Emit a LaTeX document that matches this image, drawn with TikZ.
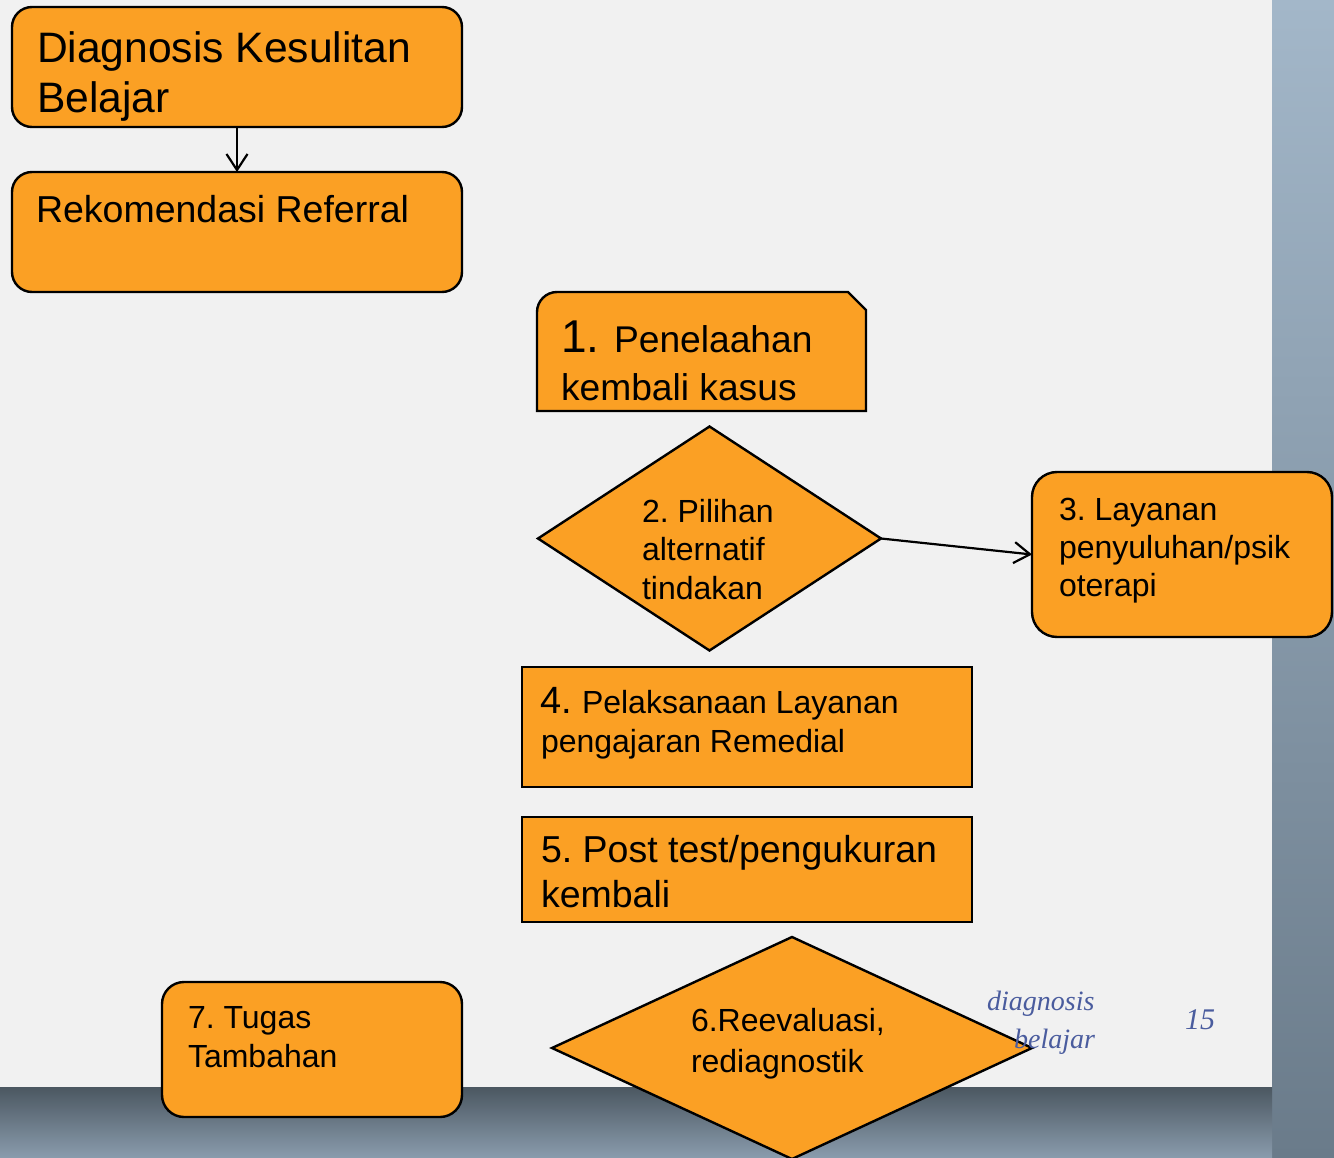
\documentclass[tikz,border=0pt]{standalone}
\usepackage{fontspec}
\setmainfont{Liberation Sans}
\newfontfamily\footfont{Liberation Serif}
\usetikzlibrary{shapes.geometric,arrows.meta}
\definecolor{boxfill}{HTML}{FBA024}
\definecolor{paper}{HTML}{F1F1F1}
\definecolor{footblue}{HTML}{4A5C9E}
\definecolor{rtop}{HTML}{A3B7C9}
\definecolor{rmid}{HTML}{93A7B9}
\definecolor{rbot}{HTML}{6A7B8A}
\definecolor{btop}{HTML}{4B5761}
\definecolor{bbot}{HTML}{8A9CAD}
\newcommand\myfs[1]{\fontsize{#1}{#1}\selectfont}
\frenchspacing
\begin{document}
\begin{tikzpicture}[x=1pt,y=-1pt,
  box/.style={draw=black,line width=2.4pt,fill=boxfill,inner sep=0pt,outer sep=0pt},
  rbox/.style={box,rectangle,rounded corners=#1},
  dia/.style={box,diamond},
  lbl/.style={anchor=base west,inner sep=0pt,outer sep=0pt,text=black},
  foot/.style={anchor=base west,inner sep=0pt,text=footblue},
  conn/.style={line width=2.2pt,-{Straight Barb[length=16pt,width=21pt,line width=2.2pt]}}]
\useasboundingbox (0,0) rectangle (1334,1158);
% background
\shade[top color=rtop, middle color=rmid, bottom color=rbot] (1272,0) rectangle (1334,1158);
\shade[top color=btop, bottom color=bbot] (0,1087) rectangle (1272,1158);
\fill[paper] (0,0) rectangle (1272,1087);
% boxes
\node[rbox=20pt, minimum width=450pt, minimum height=120pt] (diag) at (237,67) {};
\node[rbox=20pt, minimum width=450pt, minimum height=120pt] (reko) at (237,232) {};
\draw[box] (537,411) -- (537,312) .. controls (537,301) and (546,292) .. (557,292)
  -- (848,292) -- (866,310) -- (866,411) -- cycle;
\coordinate (s1) at (701,352);
\node[dia, minimum width=343pt, minimum height=224pt] (s2) at (709.5,538.5) {};
\node[rbox=25pt, minimum width=300pt, minimum height=165pt] (s3) at (1182,554.5) {};
\node[box, rectangle, minimum width=450pt, minimum height=120pt] (s4) at (747,727) {};
\node[box, rectangle, minimum width=450pt, minimum height=105pt] (s5) at (747,869.5) {};
\node[dia, minimum width=480pt, minimum height=222pt] (s6) at (792,1048) {};
\node[rbox=22pt, minimum width=300pt, minimum height=135pt] (s7) at (312,1049.5) {};
% connectors
\draw[conn] (diag.south) -- (reko.north);
\draw[conn] (s2.east) -- (s3.west);
% texts
\node[lbl, font=\myfs{42.6}] (ta1) at (37,63) {Diagnosis Kesulitan};
\node[lbl, font=\myfs{42.6}] (ta2) at (37,113) {Belajar};
\node[lbl, font=\myfs{37.5}] (tb1) at (36,223) {Rekomendasi Referral};
\node[lbl, font=\myfs{46}] (t1n) at (561,353) {1.};
\node[lbl, font=\myfs{37.2}] (t1a) at (614,353) {Penelaahan};
\node[lbl, font=\myfs{37.2}] (t1b) at (561,401) {kembali kasus};
\node[lbl, font=\myfs{32}] (t2a) at (642,522) {2. Pilihan};
\node[lbl, font=\myfs{32}] (t2b) at (642,560) {alternatif};
\node[lbl, font=\myfs{32}] (t2c) at (642,599) {tindakan};
\node[lbl, font=\myfs{32}] (t3a) at (1059,520) {3. Layanan};
\node[lbl, font=\myfs{32}] (t3b) at (1059,558) {penyuluhan/psik};
\node[lbl, font=\myfs{32}] (t3c) at (1059,596) {oterapi};
\node[lbl, font=\myfs{38}] (t4n) at (540,713) {4.};
\node[lbl, font=\myfs{32}] (t4a) at (582,713) {Pelaksanaan Layanan};
\node[lbl, font=\myfs{32}] (t4b) at (541,752) {pengajaran Remedial};
\node[lbl, font=\myfs{37.5}] (t5a) at (541,862) {5. Post test/pengukuran};
\node[lbl, font=\myfs{37.5}] (t5b) at (541,907) {kembali};
\node[lbl, font=\myfs{32}] (t6a) at (691,1031) {6.Reevaluasi,};
\node[lbl, font=\myfs{32}] (t6b) at (691,1072) {rediagnostik};
\node[lbl, font=\myfs{32}] (t7a) at (188,1028) {7. Tugas};
\node[lbl, font=\myfs{32}] (t7b) at (188,1067) {Tambahan};
% footer
\node[foot, font=\footfont\itshape\myfs{28}] (f1) at (987,1010) {diagnosis};
\node[foot, font=\footfont\itshape\myfs{28}] (f2) at (1014,1048) {belajar};
\node[foot, font=\footfont\itshape\myfs{30}] (f3) at (1185,1029) {15};
\end{tikzpicture}
\end{document}
